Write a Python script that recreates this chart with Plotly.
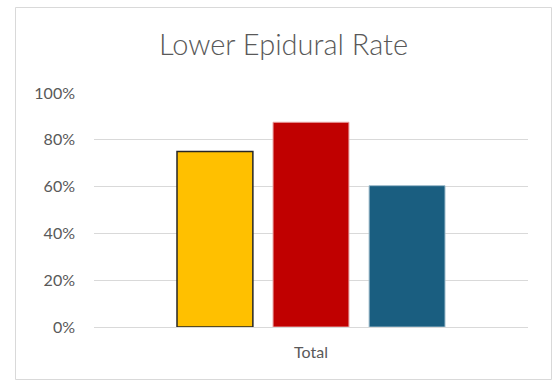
import plotly.graph_objects as go

# Chart data
categories = ["Total"]
series_names = ["Series 1", "Series 2", "Series 3"]
series_values = [[0.75], [0.875], [0.604]]
y_ticks = [0, 0.2, 0.4, 0.6, 0.8, 1.0]
y_tick_labels = ["0%", "20%", "40%", "60%", "80%", "100%"]

fill_colors = ["#FFC000", "#C00000", "#1A5E80"]
line_colors = ["#262626", "#E8A0A0", "#9DBBCB"]
line_widths = [1.5, 1, 1]

fig = go.Figure()
for name, vals, fc, lc, lw in zip(series_names, series_values, fill_colors, line_colors, line_widths):
    fig.add_trace(go.Bar(
        x=categories, y=vals, name=name,
        marker=dict(color=fc, line=dict(color=lc, width=lw)),
        hoverinfo="skip",
    ))

W, H = 553, 381
ml, mr, mt, mb = 94, 25, 93, 54
pw, ph = W - ml - mr, H - mt - mb

def px_to_paper_x(px):
    return (px - ml) / pw

def px_to_paper_y(py):
    return (H - mb - py) / ph

fig.update_layout(
    width=W, height=H,
    margin=dict(l=ml, r=mr, t=mt, b=mb, pad=0),
    paper_bgcolor="white", plot_bgcolor="white",
    showlegend=False,
    barmode="group", bargap=0.336, bargroupgap=0.21,
    title=dict(text="Lower Epidural Rate", x=283.5 / W, xanchor="center",
               y=1 - 45 / H, yanchor="middle", yref="container",
               font=dict(family="Lato", size=29, weight=300, color="#595959")),
    font=dict(family="Lato", color="#595959", size=16),
    xaxis=dict(showgrid=False, showline=False, zeroline=False, ticks="",
               ticklabelstandoff=14,
               tickfont=dict(family="Lato", size=16, color="#595959")),
    yaxis=dict(range=[0, 1.0], tickvals=y_ticks, ticktext=y_tick_labels,
               showgrid=True, gridcolor="#D9D9D9", gridwidth=1,
               zeroline=True, zerolinecolor="#D9D9D9", zerolinewidth=1,
               showline=False, ticks="", ticklabelstandoff=18,
               tickfont=dict(family="Lato", size=16, color="#595959")),
    shapes=[dict(type="rect", xref="paper", yref="paper",
                 x0=px_to_paper_x(15.5), x1=px_to_paper_x(551.5),
                 y0=px_to_paper_y(379.5), y1=px_to_paper_y(7.5),
                 line=dict(color="#D9D9D9", width=1), fillcolor="rgba(0,0,0,0)",
                 layer="below")],
)

fig.write_html("out.html")
